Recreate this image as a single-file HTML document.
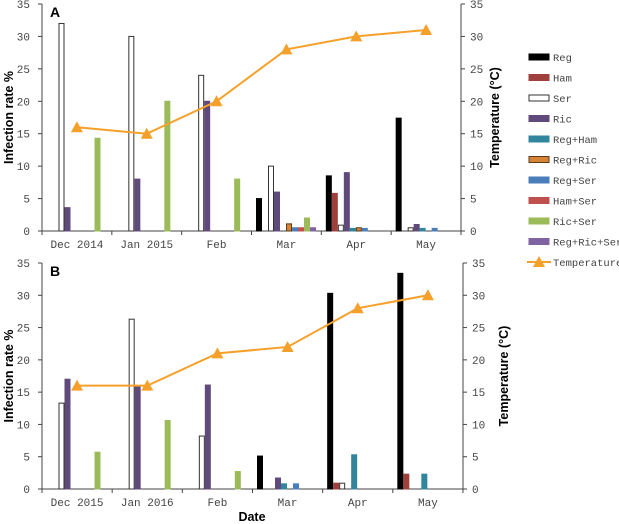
<!DOCTYPE html>
<html><head><meta charset="utf-8"><style>
body{margin:0;background:#fff}
svg{display:block;font-family:"Liberation Mono","Noto Sans CJK SC",monospace}
</style></head><body>
<svg id="c" width="619" height="524" viewBox="0 0 619 524"></svg>
<script>
const series=["Reg","Ham","Ser","Ric","Reg+Ham","Reg+Ric","Reg+Ser","Ham+Ser","Ric+Ser","Reg+Ric+Ser"];
const colors=["#000000","#a0403d","#ffffff","#604a7b","#31859c","#d78437","#4a7ebb","#c0504d","#9bbb59","#8064a2"];
const strokes=["#000","#a0403d","#333","#604a7b","#31859c","#5a3a1a","#4a7ebb","#c0504d","#9bbb59","#8064a2"];
const catsA=["Dec 2014","Jan 2015","Feb","Mar","Apr","May"];
const catsB=["Dec 2015","Jan 2016","Feb","Mar","Apr","May"];
const valsA=[
[0,0,0,5,8.5,17.4],
[0,0,0,0,5.8,0],
[32,30,24,10,0.9,0.5],
[3.6,8,20,6,9,1],
[0,0,0,0,0.4,0.4],
[0,0,0,1.1,0.5,0],
[0,0,0,0.5,0.4,0.4],
[0,0,0,0.5,0,0],
[14.3,20,8,2,0,0],
[0,0,0,0.5,0,0]];
const tempA=[16,15,20,28,30,31];
const valsB=[
[0,0,0,5.1,30.3,33.4],
[0,0,0,0,0.9,2.3],
[13.3,26.3,8.2,0,0.9,0],
[17,15.8,16.1,1.7,0,0],
[0,0,0,0.8,5.3,2.3],
[0,0,0,0,0,0],
[0,0,0,0.8,0,0],
[0,0,0,0,0,0],
[5.7,10.6,2.7,0,0,0],
[0,0,0,0,0,0]];
const tempB=[16,16,21,22,28,30];
const ticks=[0,5,10,15,20,25,30,35];
const NS="http://www.w3.org/2000/svg";
const svg=document.getElementById('c');
function mk(t,a,p){const e=document.createElementNS(NS,t);for(const k in a)e.setAttribute(k,a[k]);(p||svg).appendChild(e);return e;}
function panel(label,cats,vals,temp,y0,y35,left,right,pn){
  const g=mk('g',{});
  
  
  const ys=v=>y0-(y0-y35)*v/35;
  const gw=(right-left)/6;
  const xs=i=>left+gw*i;
  mk('line',{x1:left,y1:y35,x2:left,y2:y0,stroke:'#444'},g);
  mk('line',{x1:right,y1:y35,x2:right,y2:y0,stroke:'#444'},g);
  mk('line',{x1:left,y1:y0,x2:right,y2:y0,stroke:'#444'},g);
  ticks.forEach(t=>{
    mk('line',{x1:left-4,x2:left,y1:ys(t),y2:ys(t),stroke:'#444'},g);
    mk('line',{x1:right,x2:right+4,y1:ys(t),y2:ys(t),stroke:'#444'},g);
    const a=mk('text',{x:left-12,y:ys(t)+4,'text-anchor':'end','font-size':11,fill:'#444'},g);a.textContent=t;
    const b=mk('text',{x:right+9,y:ys(t)+4,'font-size':11,fill:'#444'},g);b.textContent=t;
  });
  for(let i=0;i<=6;i++)mk('line',{x1:xs(i),x2:xs(i),y1:y0,y2:y0+4,stroke:'#444'},g);
  cats.forEach((c,i)=>{const t=mk('text',{x:xs(i)+gw/2,y:y0+17,'text-anchor':'middle','font-size':11,fill:'#444'},g);t.textContent=c;
    });
  const bw=6;
  vals.forEach((row,s)=>row.forEach((v,i)=>{
    if(v<=0)return;
    const r=mk('rect',{x:xs(i)+5+s*bw,y:ys(v),width:bw-1,height:y0-ys(v),fill:colors[s],stroke:strokes[s],'stroke-width':1},g);
    
    
  }));
  const pts=temp.map((v,i)=>[xs(i)+gw/2,ys(v)]);
  const pl=mk('polyline',{points:pts.map(p=>p.join(',')).join(' '),fill:'none',stroke:'#f5a02a','stroke-width':2},g);
  
  pts.forEach(p=>{const m=mk('polygon',{points:`${p[0]-6},${p[1]+5} ${p[0]+6},${p[1]+5} ${p[0]},${p[1]-6}`,fill:'#f5a02a'},g);
    });
  const L=mk('text',{x:left+8,y:y35+13,'font-size':14,'font-weight':'bold','font-family':'Liberation Sans, sans-serif'},g);L.textContent=label;
  const ya=mk('text',{transform:`translate(13,${(y0+y35)/2}) rotate(-90)`,'text-anchor':'middle','font-size':12.5,'font-weight':'bold','font-family':'Liberation Sans, sans-serif'},g);ya.textContent='Infection rate %';
  
  const yb=mk('text',{transform:`translate(${pn=='a'?499:508},${(y0+y35)/2}) rotate(-90)`,'text-anchor':'middle','font-size':12.5,'font-weight':'bold','font-family':'Liberation Sans, sans-serif'},g);yb.textContent='Temperature (°C)';
  
}
panel('A',catsA,valsA,tempA,231,4,42,461,'a');
panel('B',catsB,valsB,tempB,489,263,42,463,'b');
const xt=mk('text',{x:252,y:521,'text-anchor':'middle','font-size':12.5,'font-weight':'bold','font-family':'Liberation Sans, sans-serif'});xt.textContent='Date';

const lg=mk('g',{});

series.forEach((s,i)=>{
  const y=57+i*20.5;
  const r=mk('rect',{x:529,y:y-3,width:20,height:6,fill:colors[i],stroke:strokes[i]},lg);
  
  const t=mk('text',{x:553,y:y+4,'font-size':10.5,fill:'#444'},lg);t.textContent=s;
  
});
const ty=57+10*20.5;
mk('line',{x1:527,x2:551,y1:ty,y2:ty,stroke:'#f5a02a','stroke-width':2},lg);
mk('polygon',{points:`533,${ty+5} 545,${ty+5} 539,${ty-6}`,fill:'#f5a02a'},lg);
const tt=mk('text',{x:553,y:ty+4,'font-size':10.5,fill:'#444'},lg);tt.textContent='Temperature';

</script>
</body></html>
